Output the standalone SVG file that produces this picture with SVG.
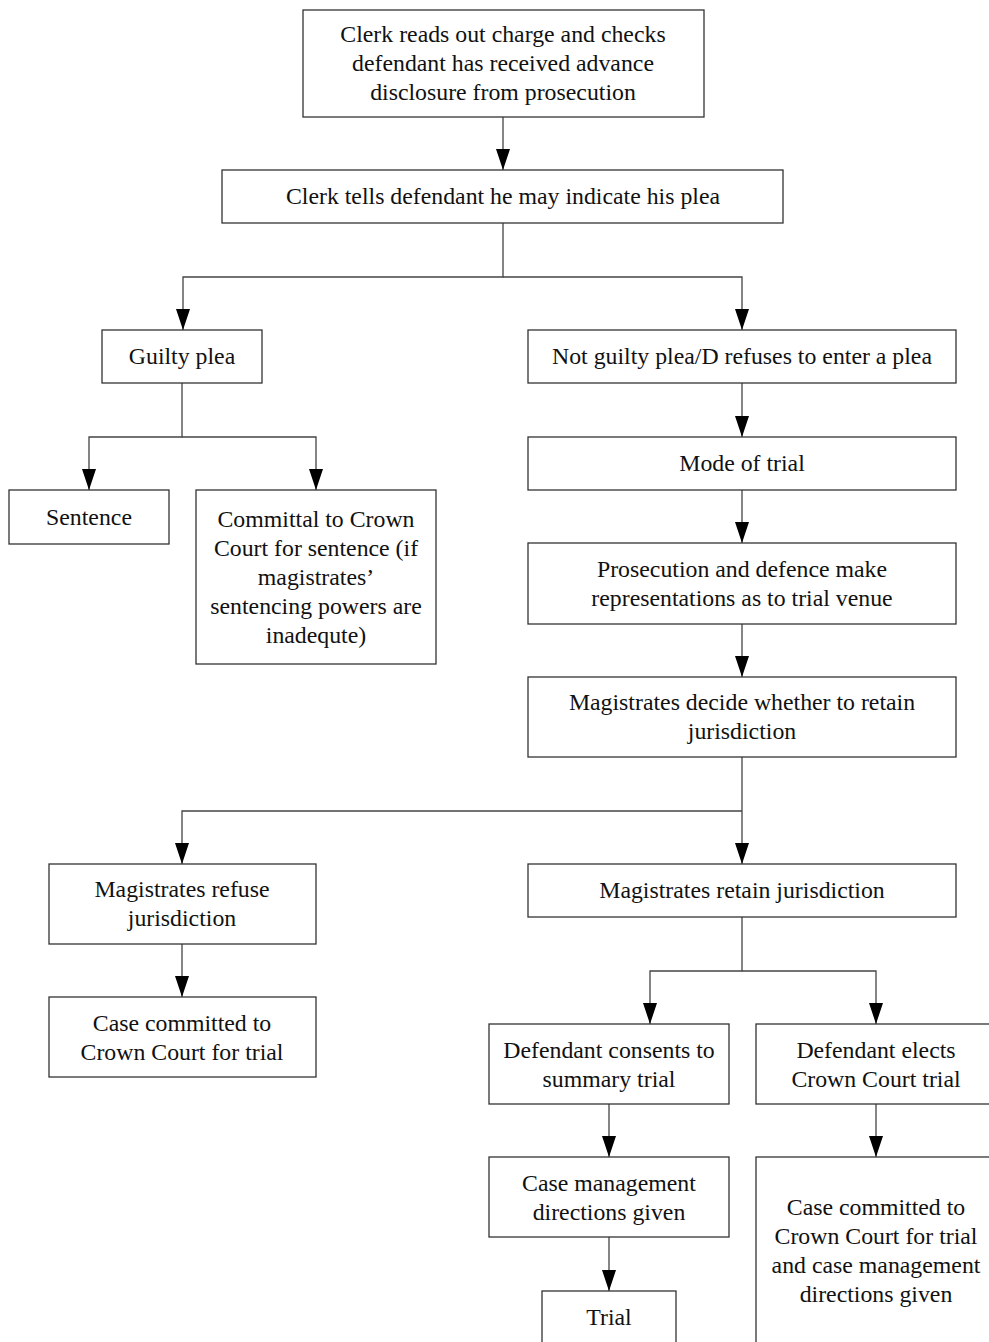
<svg xmlns="http://www.w3.org/2000/svg" width="989" height="1342" viewBox="0 0 989 1342">
<style>
rect{fill:#fff;stroke:#333;stroke-width:1.3}
text{font-family:"Liberation Serif","DejaVu Serif",serif;font-size:23.8px;fill:#111;text-anchor:middle}
.c path{fill:none;stroke:#444;stroke-width:1.3}
</style>
<defs>
<marker id="a" markerUnits="userSpaceOnUse" markerWidth="22" markerHeight="16" refX="21" refY="8" orient="auto" viewBox="0 0 22 16"><path d="M0,1 L21,8 L0,15 Z" fill="#000"/></marker>
</defs>
<rect width="989" height="1342" style="stroke:none"/>
<g class="c">
<path d="M503,117 V170" marker-end="url(#a)"/>
<path d="M503,223 V277 H183 V330" marker-end="url(#a)"/>
<path d="M503,277 H742 V330" marker-end="url(#a)"/>
<path d="M182,383 V437 H89 V490" marker-end="url(#a)"/>
<path d="M182,437 H316 V490" marker-end="url(#a)"/>
<path d="M742,383 V437" marker-end="url(#a)"/>
<path d="M742,490 V543" marker-end="url(#a)"/>
<path d="M742,624 V677" marker-end="url(#a)"/>
<path d="M742,757 V864" marker-end="url(#a)"/>
<path d="M742,811 H182 V864" marker-end="url(#a)"/>
<path d="M182,944 V997" marker-end="url(#a)"/>
<path d="M742,917 V971 H650 V1024" marker-end="url(#a)"/>
<path d="M742,971 H876 V1024" marker-end="url(#a)"/>
<path d="M609,1104 V1157" marker-end="url(#a)"/>
<path d="M876,1104 V1157" marker-end="url(#a)"/>
<path d="M609,1237 V1291" marker-end="url(#a)"/>
</g>
<g id="n1"><rect x="303" y="10" width="401" height="107"/><text x="503" y="42">Clerk reads out charge and checks</text><text x="503" y="71">defendant has received advance</text><text x="503" y="100">disclosure from prosecution</text></g>
<g id="n2"><rect x="222" y="170" width="561" height="53"/><text x="503" y="204">Clerk tells defendant he may indicate his plea</text></g>
<g id="n3"><rect x="102" y="330" width="160" height="53"/><text x="182" y="364">Guilty plea</text></g>
<g id="n4"><rect x="528" y="330" width="428" height="53"/><text x="742" y="364">Not guilty plea/D refuses to enter a plea</text></g>
<g id="n5"><rect x="9" y="490" width="160" height="54"/><text x="89" y="525">Sentence</text></g>
<g id="n6"><rect x="196" y="490" width="240" height="174"/><text x="316" y="527">Committal to Crown</text><text x="316" y="556">Court for sentence (if</text><text x="316" y="585">magistrates’</text><text x="316" y="614">sentencing powers are</text><text x="316" y="643">inadequte)</text></g>
<g id="n7"><rect x="528" y="437" width="428" height="53"/><text x="742" y="471">Mode of trial</text></g>
<g id="n8"><rect x="528" y="543" width="428" height="81"/><text x="742" y="577">Prosecution and defence make</text><text x="742" y="606">representations as to trial venue</text></g>
<g id="n9"><rect x="528" y="677" width="428" height="80"/><text x="742" y="710">Magistrates decide whether to retain</text><text x="742" y="739">jurisdiction</text></g>
<g id="n10"><rect x="49" y="864" width="267" height="80"/><text x="182" y="897">Magistrates refuse</text><text x="182" y="926">jurisdiction</text></g>
<g id="n11"><rect x="528" y="864" width="428" height="53"/><text x="742" y="898">Magistrates retain jurisdiction</text></g>
<g id="n12"><rect x="49" y="997" width="267" height="80"/><text x="182" y="1031">Case committed to</text><text x="182" y="1060">Crown Court for trial</text></g>
<g id="n13"><rect x="489" y="1024" width="240" height="80"/><text x="609" y="1058">Defendant consents to</text><text x="609" y="1087">summary trial</text></g>
<g id="n14"><rect x="756" y="1024" width="240" height="80"/><text x="876" y="1058">Defendant elects</text><text x="876" y="1087">Crown Court trial</text></g>
<g id="n15"><rect x="489" y="1157" width="240" height="80"/><text x="609" y="1191">Case management</text><text x="609" y="1220">directions given</text></g>
<g id="n16"><rect x="542" y="1291" width="134" height="60"/><text x="609" y="1325">Trial</text></g>
<g id="n17"><rect x="756" y="1157" width="240" height="200"/><text x="876" y="1215">Case committed to</text><text x="876" y="1244">Crown Court for trial</text><text x="876" y="1273">and case management</text><text x="876" y="1302">directions given</text></g>
</svg>
